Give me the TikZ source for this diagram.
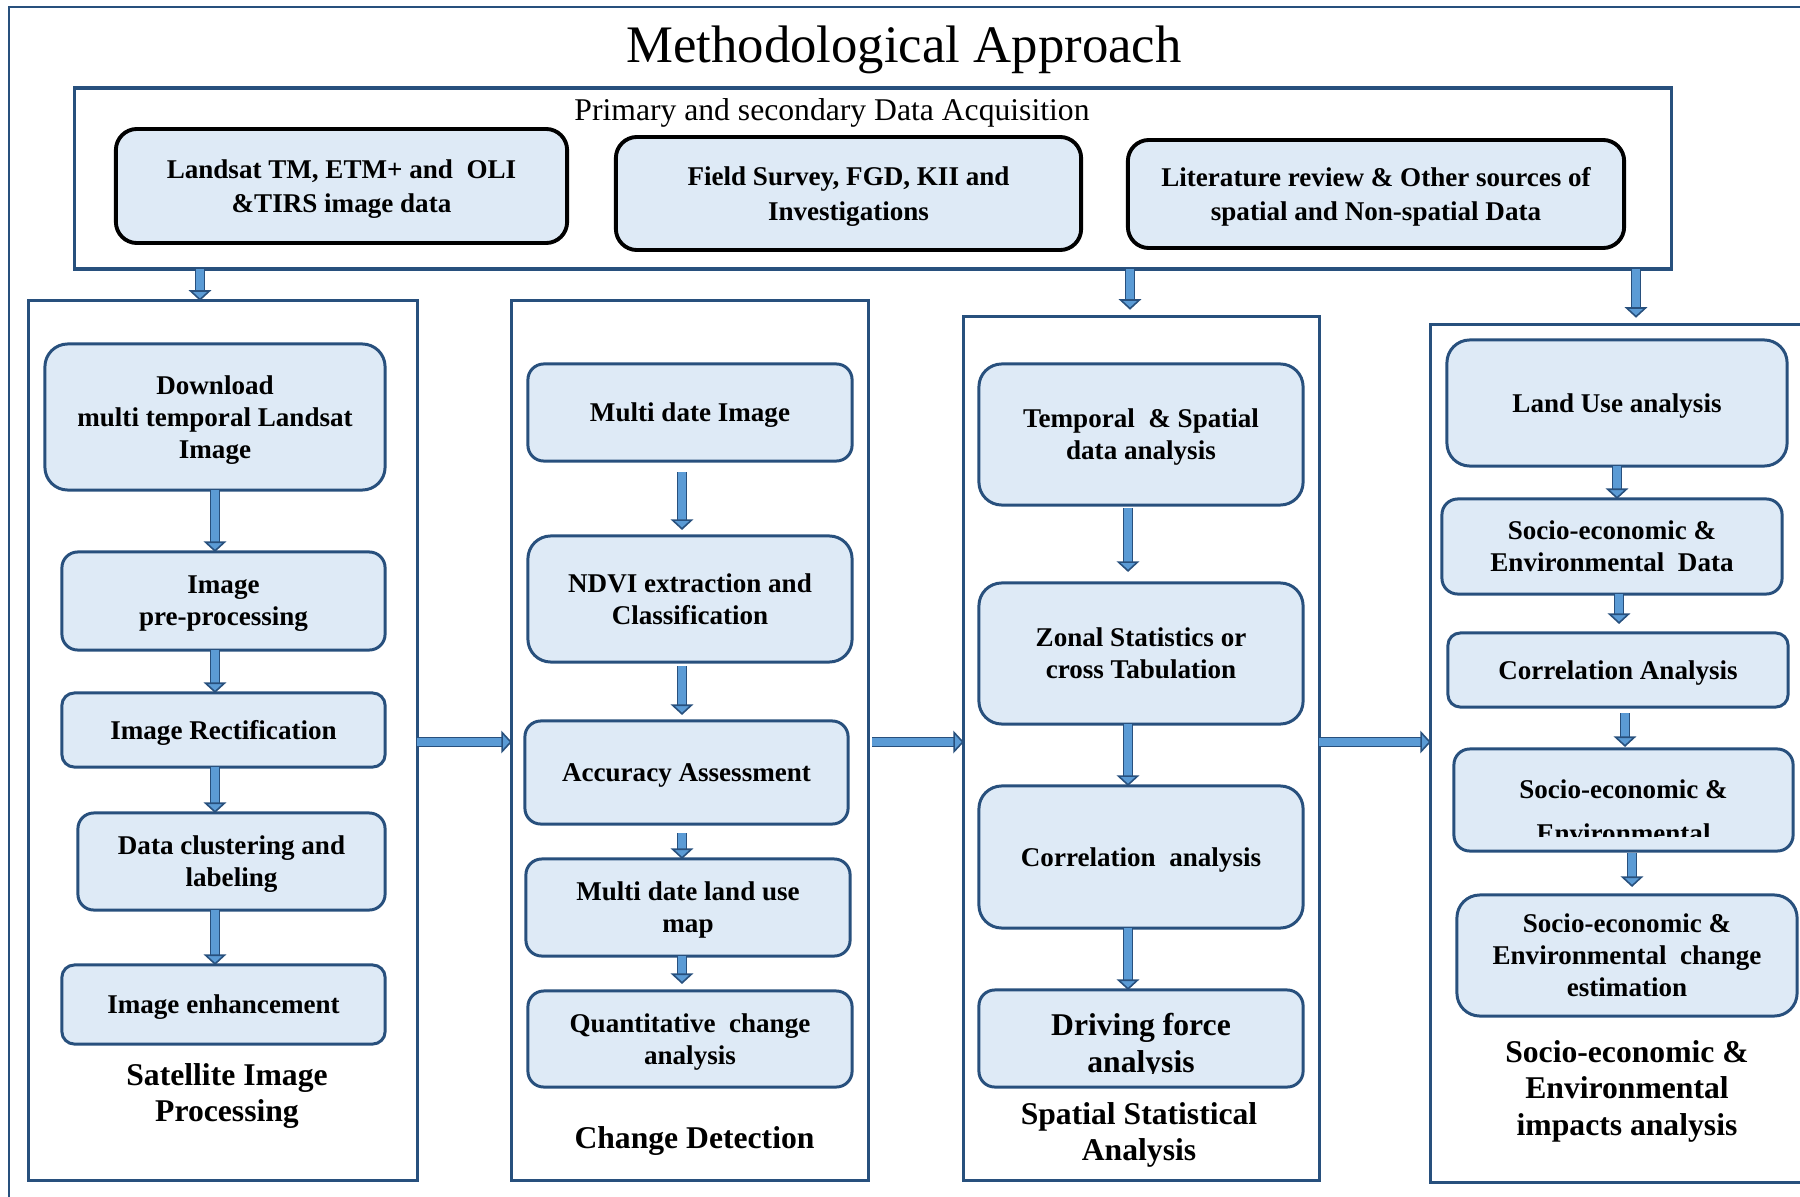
\documentclass[tikz,border=0pt]{standalone}
\usepackage{fontspec}
\setmainfont{Liberation Serif}
\usetikzlibrary{arrows.meta}

\definecolor{frameblue}{RGB}{40,80,125}
\definecolor{boxfill}{RGB}{222,234,246}
\definecolor{arrowfill}{RGB}{91,155,213}

\tikzset{
  panel/.style={draw=frameblue, line width=0.85pt, inner sep=0pt, outer sep=0pt},
  boxtext/.style={inner sep=0pt, font=\bfseries\fontsize{7.7}{9.1}\selectfont},
  procbox/.style={draw=frameblue, fill=boxfill, line width=0.85pt, rounded corners=4.5pt,
    align=center, inner sep=0pt, outer sep=0pt, font=\bfseries\fontsize{7.7}{9.1}\selectfont,
    text depth=-1.6pt},
  bigbox/.style={procbox, rounded corners=6.5pt},
  smallbox/.style={procbox, rounded corners=3.5pt},
  databox/.style={procbox, draw=black, line width=1.1pt, rounded corners=6pt, font=\bfseries\fontsize{7.7}{9.8}\selectfont},
  grouptitle/.style={align=center, inner sep=0pt, font=\bfseries\fontsize{9}{10.4}\selectfont},
  blockarrow/.style={draw=frameblue, line width=0.45pt, double=arrowfill, double distance=2.1pt,
    -{Triangle[width=6.4pt,length=3pt,fill=arrowfill]}},
}

\begin{document}
\begin{tikzpicture}[x=0.01cm,y=-0.01cm]
\useasboundingbox (0,0) rectangle (1800,1197);
\draw[frameblue, line width=0.85pt] (9,7) rectangle (1830,1230);

% title and data acquisition
\node[anchor=base, font=\fontsize{15}{18}\selectfont] (title) at (904,63) {Methodological Approach};
\node[panel, minimum width=15.96cm, minimum height=1.81cm, line width=1pt] (acq) at (873,178.5) {};
\node[anchor=base, font=\fontsize{9}{11}\selectfont] (acqtitle) at (832,121) {Primary and secondary Data Acquisition};
\node[databox, minimum width=4.51cm, minimum height=1.14cm] (d1) at (341.5,186) {Landsat TM, ETM+ and\ \ OLI\\\&TIRS image data};
\node[databox, minimum width=4.65cm, minimum height=1.13cm] (d2) at (848.5,193.5) {Field Survey, FGD, KII and\\Investigations};
\node[databox, minimum width=4.96cm, minimum height=1.08cm] (d3) at (1376,194) {Literature review \& Other sources of\\spatial and Non-spatial Data};

% the four panels
\node[panel, minimum width=3.88cm, minimum height=8.79cm] (sat) at (223,740.5) {};
\node[panel, minimum width=3.56cm, minimum height=8.79cm] (chg) at (690,740.5) {};
\node[panel, minimum width=3.55cm, minimum height=8.63cm] (spa) at (1141.5,748.5) {};
\node[panel, minimum width=3.99cm, minimum height=8.57cm] (soc) at (1630.5,753.5) {};

\draw[blockarrow] (acq.south -| 200,0) -- (sat.north -| 200,0);
\draw[blockarrow, shorten >=0.7mm] (acq.south -| 1130,0) -- (spa.north -| 1130,0);
\draw[blockarrow, shorten >=0.7mm] (acq.south -| 1636,0) -- (soc.north -| 1636,0);
\draw[blockarrow] (sat.east |- 0,742) -- (chg.west |- 0,742);
\draw[blockarrow, shorten <=0.4mm] (chg.east |- 0,742) -- (spa.west |- 0,742);
\draw[blockarrow] (spa.east |- 0,742) -- (soc.west |- 0,742);

% satellite image processing
\node[bigbox, minimum width=3.40cm, minimum height=1.46cm] (s1) at (215,417) {Download\\multi temporal Landsat\\Image};
\node[procbox, minimum width=3.23cm, minimum height=0.98cm] (s2) at (223.5,601) {Image\\pre-processing};
\node[smallbox, minimum width=3.23cm, minimum height=0.74cm] (s3) at (223.5,730) {Image Rectification};
\node[procbox, minimum width=3.07cm, minimum height=0.97cm] (s4) at (231.5,861.5) {Data clustering and\\labeling};
\node[smallbox, minimum width=3.23cm, minimum height=0.79cm] (s5) at (223.5,1004.5) {Image enhancement};
\node[grouptitle] (satcap) at (227,1096) {Satellite Image\\Processing};
\draw[blockarrow] (s1.south) -- (s1.south |- s2.north);
\draw[blockarrow] (s1.south |- s2.south) -- (s1.south |- s3.north);
\draw[blockarrow] (s1.south |- s3.south) -- (s1.south |- s4.north);
\draw[blockarrow] (s1.south |- s4.south) -- (s1.south |- s5.north);

% change detection
\node[procbox, minimum width=3.24cm, minimum height=0.97cm] (c1) at (690,412.5) {Multi date Image};
\node[bigbox, minimum width=3.24cm, minimum height=1.26cm] (c2) at (690,599) {NDVI extraction and\\Classification};
\node[procbox, minimum width=3.23cm, minimum height=1.03cm] (c3) at (686.5,772.5) {Accuracy Assessment};
\node[procbox, minimum width=3.24cm, minimum height=0.97cm] (c4) at (688,907.5) {Multi date land use\\map};
\node[procbox, minimum width=3.24cm, minimum height=0.96cm] (c5) at (690,1039) {Quantitative~ change\\analysis};
\node[grouptitle, anchor=base] (chgcap) at (694.5,1148) {Change Detection};
\draw[blockarrow, shorten <=1.1mm, shorten >=0.6mm] (682,0 |- c1.south) -- (682,0 |- c2.north);
\draw[blockarrow, shorten <=0.4mm, shorten >=0.6mm] (682,0 |- c2.south) -- (682,0 |- c3.north);
\draw[blockarrow, shorten <=0.9mm] (682,0 |- c3.south) -- (682,0 |- c4.north);
\draw[blockarrow, shorten >=0.7mm] (682,0 |- c4.south) -- (682,0 |- c5.north);

% spatial statistical analysis
\node[bigbox, minimum width=3.24cm, minimum height=1.41cm] (t1) at (1141,434.5) {Temporal~ \& Spatial\\data analysis};
\node[bigbox, minimum width=3.24cm, minimum height=1.41cm] (t2) at (1141,653.5) {Zonal Statistics or\\cross Tabulation};
\node[bigbox, minimum width=3.24cm, minimum height=1.42cm] (t3) at (1141,857) {Correlation~ analysis};
\node[procbox, minimum width=3.24cm, minimum height=0.97cm] (t4) at (1141,1038.5) {};
\node[anchor=base, inner sep=0pt, font=\bfseries\fontsize{9}{10.5}\selectfont] (t4a) at (1141,1035) {Driving force};
\begin{scope}
\clip (t4.west |- 0,1045) rectangle (t4.east |- 0,1073);
\node[anchor=base, inner sep=0pt, font=\bfseries\fontsize{9}{10.5}\selectfont] (t4b) at (1141,1072) {analysis};
\end{scope}
\node[grouptitle] (spacap) at (1139,1135) {Spatial Statistical\\Analysis};
\draw[blockarrow, shorten <=0.3mm, shorten >=1.1mm] (1128,0 |- t1.south) -- (1128,0 |- t2.north);
\draw[blockarrow] (1128,0 |- t2.south) -- (1128,0 |- t3.north);
\draw[blockarrow] (1128,0 |- t3.south) -- (1128,0 |- t4.north);

% socio-economic and environmental impacts
\node[bigbox, minimum width=3.40cm, minimum height=1.26cm] (e1) at (1617,403) {Land Use analysis};
\node[procbox, minimum width=3.40cm, minimum height=0.95cm] (e2) at (1612,546.5) {Socio-economic \&\\Environmental~ Data};
\node[smallbox, minimum width=3.40cm, minimum height=0.74cm] (e3) at (1618,670) {Correlation Analysis};
\node[procbox, minimum width=3.39cm, minimum height=1.02cm] (e4) at (1623.5,800) {};
\node[boxtext, anchor=base] (e4a) at (1623.5,798) {Socio-economic \&};
\begin{scope}
\clip (e4.west |- 0,810) rectangle (e4.east |- 0,836);
\node[boxtext, anchor=base] (e4b) at (1623.5,842) {Environmental};
\end{scope}
\node[bigbox, minimum width=3.40cm, minimum height=1.21cm] (e5) at (1627,955.5) {Socio-economic \&\\Environmental~ change\\estimation};
\node[grouptitle] (soccap) at (1627,1091) {Socio-economic \&\\Environmental\\impacts analysis};
\draw[blockarrow] (1617,0 |- e1.south) -- (1617,0 |- e2.north);
\draw[blockarrow, shorten >=0.9mm] (1619,0 |- e2.south) -- (1619,0 |- e3.north);
\draw[blockarrow, shorten <=0.6mm, shorten >=0.2mm] (1625,0 |- e3.south) -- (1625,0 |- e4.north);
\draw[blockarrow, shorten <=0.2mm, shorten >=0.8mm] (1632,0 |- e4.south) -- (1632,0 |- e5.north);
\end{tikzpicture}
\end{document}
